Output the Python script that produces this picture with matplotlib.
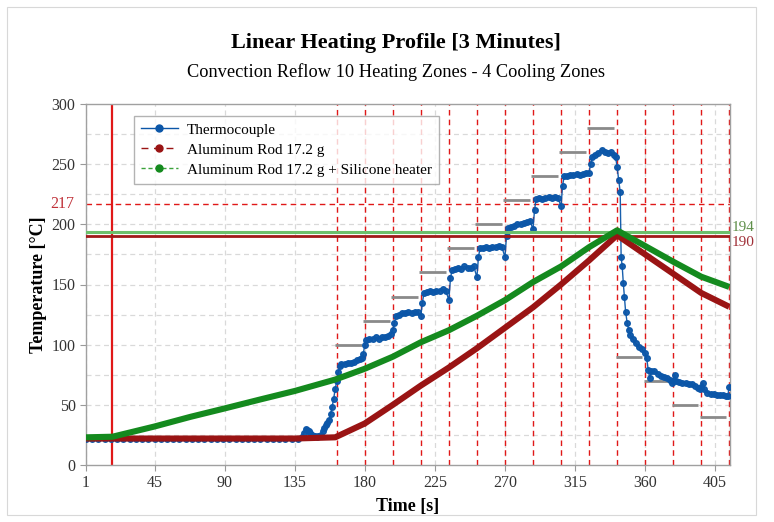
import matplotlib
matplotlib.use("Agg")
import matplotlib.pyplot as plt
from matplotlib.lines import Line2D
from matplotlib.patches import Rectangle

plt.rcParams['font.family'] = ['Liberation Serif', 'DejaVu Serif']

# ---------------- data ----------------
tc_time = [
    1, 5, 9, 13, 17, 21, 25, 29, 33, 37, 41, 45, 49, 53, 57, 61, 65, 69, 73, 77, 81, 85, 89, 93, 97,
    101, 105, 109, 113, 117, 121, 125, 129, 133, 137,
    140, 141, 142, 143, 144, 145, 146, 147, 148, 149, 150, 151, 152, 153, 154, 155, 156, 157, 158,
    159, 160, 161, 162, 163, 164,
    165, 167, 169, 171, 173, 175, 177, 178, 179,
    180, 181, 183, 185, 187, 189, 191, 193, 195, 197, 198, 199,
    200, 202, 204, 206, 208, 210, 212, 214, 216, 217,
    218, 220, 222, 224, 226, 228, 230, 232, 234, 235,
    236, 238, 240, 242, 244, 246, 248, 250, 252, 253,
    254, 256, 258, 260, 262, 264, 266, 268, 270, 271,
    272, 274, 276, 278, 280, 282, 284, 286, 288, 289,
    290, 292, 294, 296, 298, 300, 302, 304, 306, 307,
    308, 310, 312, 314, 316, 318, 320, 322, 324, 325,
    326, 328, 330, 332, 334, 336, 338, 340, 341,
    342, 343, 344, 344.6, 345.3, 346, 346.7, 347.5, 348.5, 349.5, 350.5, 352, 354, 356, 358, 360,
    361, 362, 363,
    364, 366, 368, 370, 372, 374, 376, 377, 378, 379, 380, 382, 384, 386, 388, 390, 392, 394, 395,
    396, 397, 398, 400, 402, 404, 406, 408, 410, 412, 413, 414,
]
tc_temp = [
    21.5, 21.5, 21.5, 21.5, 21.5, 21.5, 21.5, 21.5, 21.5, 21.5, 21.5, 21.5, 21.5, 21.5, 21.5, 21.5,
    21.5, 21.5, 21.5, 21.5, 21.5, 21.5, 21.5, 21.5, 21.5, 21.5, 21.5, 21.5, 21.5, 21.5, 21.5, 21.5,
    21.5, 21.5, 22,
    23, 27, 30, 29, 28, 27, 25, 24, 24, 23.5, 24, 24, 25, 28, 31, 33, 35, 37, 42,
    48, 55, 63, 70, 77, 82,
    84, 84, 85, 85, 86, 87, 88, 89, 92,
    100, 104, 105, 105, 106, 105, 106, 106, 107, 109, 112, 118,
    124, 125, 126, 126, 127, 126, 127, 127, 124, 135,
    143, 144, 145, 144, 145, 145, 146, 145, 137, 155,
    162, 163, 164, 163, 165, 164, 164, 165, 156, 173,
    180, 180, 181, 180, 181, 181, 182, 181, 173, 190,
    197, 198, 199, 200, 200, 201, 202, 203, 196, 212,
    221, 222, 221, 222, 223, 222, 223, 222, 215, 232,
    240, 240, 241, 241, 242, 241, 242, 243, 243, 250,
    256, 258, 259, 262, 260, 259, 260, 258, 256,
    248, 237, 227, 173, 165, 151, 140, 127, 118, 112, 108, 105, 101, 98, 96, 93,
    89, 79, 72,
    78, 78, 76, 74, 73, 72, 71, 68, 70, 75, 70, 69, 68, 68, 67, 67, 66, 64, 63,
    65, 68, 63, 60, 59, 59, 58, 58, 58, 57, 57, 65,
]

rod_time = [1, 18, 45, 90, 135, 161, 180, 198, 216, 234, 252, 270, 288, 306, 324, 342, 360, 378, 396, 414]
rod_temp = [22, 22, 22, 22, 22, 23, 34.5, 50, 66, 81, 97, 114, 131, 150, 170, 191, 175, 159, 143, 131.5]

heat_time = [1, 18, 45, 68, 90, 113, 135, 161, 180, 198, 216, 234, 252, 270, 288, 306, 324, 342, 360, 378, 396, 414]
heat_temp = [23, 23.5, 32, 40, 47, 54.5, 61.5, 71, 80, 90, 102, 112, 124, 137, 152, 165, 181, 195, 182, 169, 156.5, 148]

zone_edges = [162, 180, 198, 216, 234, 252, 270, 288, 306, 324, 342, 360, 378, 396, 414]
zone_setpoints = [100, 120, 140, 160, 180, 200, 220, 240, 260, 280, 90, 70, 50, 40]

start_time = 18
ref_217 = 217
ref_194 = 194
ref_190 = 190

x_ticks = [1, 45, 90, 135, 180, 225, 270, 315, 360, 405]
y_ticks = [0, 50, 100, 150, 200, 250, 300]

# ---------------- colours ----------------
c_blue = '#0b56a8'
c_dred = '#9a1414'
c_green = '#148a1e'
c_red = '#e01818'
c_gray = '#8a8a8a'

fig = plt.figure(figsize=(7.74, 5.22), dpi=100)
frame = Rectangle((7 / 774, 7 / 522), 749 / 774, 508 / 522, transform=fig.transFigure,
                  fill=False, edgecolor='#d8d8d8', linewidth=0.8, zorder=-5)
fig.patches.append(frame)
ax = fig.add_axes([86 / 774, 1 - 465 / 522, 644 / 774, 361 / 522])

ax.set_xlim(1, 414.5)
ax.set_ylim(0, 300)

# grid
for y in range(25, 300, 25):
    ax.axhline(y, color='#d9d9d9', lw=0.9, ls=(0, (4, 3)), zorder=0)
for x in x_ticks:
    ax.axvline(x, color='#d9d9d9', lw=0.9, ls=(0, (4, 3)), zorder=0)

# zone boundaries
for x in zone_edges:
    ax.axvline(x, color=c_red, lw=1.0, ls=(0, (4, 3)), zorder=1)
ax.axhline(ref_217, color=c_red, lw=1.0, ls=(0, (4, 3)), zorder=1)
ax.axvline(start_time, color=c_red, lw=1.6, zorder=2)

# setpoints
for i, sp in enumerate(zone_setpoints):
    ax.hlines(sp, zone_edges[i] - 1, zone_edges[i + 1] - 2, color=c_gray, lw=2.0, zorder=2)

# curves
ax.plot(tc_time, tc_temp, color=c_blue, lw=1.0, marker='o', ms=4.0, mec=c_blue, mfc=c_blue, zorder=3,
        alpha=0.95)
ax.plot(rod_time, rod_temp, color=c_dred, lw=4.4, solid_capstyle='butt', zorder=5)
ax.plot(heat_time, heat_temp, color=c_green, lw=4.4, solid_capstyle='butt', zorder=5)

ax.axhline(ref_194, color='#6cc06c', lw=2.2, zorder=4)
ax.axhline(ref_190, color='#a01818', lw=2.0, zorder=4)

# reference labels
ax.text(-0.018, ref_217, str(ref_217), transform=ax.get_yaxis_transform(), ha='right', va='center',
        color='#c03038', fontsize=11.5)
ax.text(1.003, ref_194 + 3.5, str(ref_194), transform=ax.get_yaxis_transform(), ha='left', va='center',
        color='#5f8f4a', fontsize=11)
ax.text(1.003, ref_190 - 5, str(ref_190), transform=ax.get_yaxis_transform(), ha='left', va='center',
        color='#a03038', fontsize=11)

ax.set_xticks(x_ticks)
ax.set_yticks(y_ticks)
ax.tick_params(labelsize=11.5, colors='#333333', length=4, width=0.8, color='#999999')
for s in ax.spines.values():
    s.set_color('#a0a0a0')
    s.set_linewidth(1.0)

ax.set_xlabel('Time [s]', fontsize=13, fontweight='bold', labelpad=5)
ax.set_ylabel('Temperature [°C]', fontsize=13, fontweight='bold', labelpad=3)

fig.text(0.512, 0.918, 'Linear Heating Profile [3 Minutes]', ha='center', va='center', fontsize=16,
         fontweight='bold')
fig.text(0.512, 0.862, 'Convection Reflow 10 Heating Zones - 4 Cooling Zones', ha='center', va='center',
         fontsize=13.2)

handles = [
    Line2D([], [], color=c_blue, lw=1.0, marker='o', ms=5),
    Line2D([], [], color=c_dred, lw=1.0, ls=(0, (5, 4)), marker='o', ms=5),
    Line2D([], [], color='#3aa23a', lw=1.0, ls=(0, (3, 2)), marker='o', ms=5, mfc=c_green, mec=c_green),
]
labels = ['Thermocouple', 'Aluminum Rod 17.2 g', 'Aluminum Rod 17.2 g + Silicone heater']
leg = ax.legend(handles, labels, loc='upper left', bbox_to_anchor=((134 - 86) / 644, (465 - 116) / 361),
                borderaxespad=0, fontsize=11, frameon=True, fancybox=False, handlelength=2.4,
                labelspacing=0.42, borderpad=0.45, handletextpad=0.6)
leg.get_frame().set_edgecolor('#a0a0a0')
leg.get_frame().set_linewidth(1.0)
leg.set_zorder(10)

fig.savefig('out.png', dpi=100)
